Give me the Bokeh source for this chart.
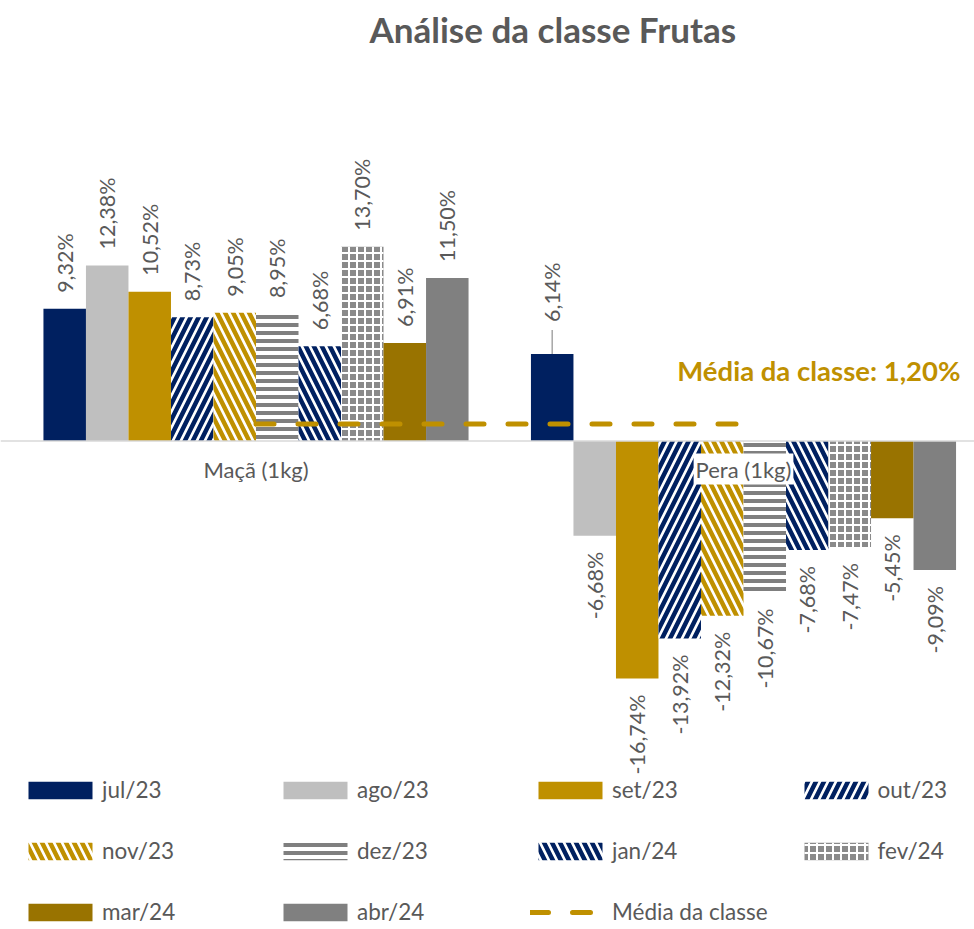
from math import pi
from bokeh.plotting import figure
from bokeh.models import Range1d, ColumnDataSource, Legend, LegendItem, Span, Label
from bokeh.core.properties import value
from bokeh.embed import file_html
from bokeh.resources import INLINE

# ---------------- data ----------------
categories = ["Maçã (1kg)", "Pera (1kg)"]
months = ["jul/23", "ago/23", "set/23", "out/23", "nov/23",
          "dez/23", "jan/24", "fev/24", "mar/24", "abr/24"]
jul23 = [9.32, 6.14]
ago23 = [12.38, -6.68]
set23 = [10.52, -16.74]
out23 = [8.73, -13.92]
nov23 = [9.05, -12.32]
dez23 = [8.95, -10.67]
jan24 = [6.68, -7.68]
fev24 = [13.70, -7.47]
mar24 = [6.91, -5.45]
abr24 = [11.50, -9.09]
media_classe = 1.20
series_values = [jul23, ago23, set23, out23, nov23, dez23, jan24, fev24, mar24, abr24]

# ---------------- styles ----------------
NAVY = "#002060"
LGRAY = "#BFBFBF"
GOLD = "#BF9000"
DGOLD = "#997300"
GRAY = "#7F7F7F"
TXT = "#595959"
FONT = "Lato"

styles = [
    dict(fill_color=NAVY),
    dict(fill_color=LGRAY),
    dict(fill_color=GOLD),
    dict(fill_color="white", hatch_pattern="right_diagonal_line", hatch_color=NAVY, hatch_scale=16, hatch_weight=4.5),
    dict(fill_color="white", hatch_pattern="left_diagonal_line", hatch_color=GOLD, hatch_scale=16, hatch_weight=4.5),
    dict(fill_color="white", hatch_pattern="horizontal_line", hatch_color=GRAY, hatch_scale=8, hatch_weight=4),
    dict(fill_color="white", hatch_pattern="left_diagonal_line", hatch_color=NAVY, hatch_scale=16, hatch_weight=4.5),
    dict(fill_color="#8A8A8A", hatch_pattern="cross", hatch_color="white", hatch_scale=8, hatch_weight=2),
    dict(fill_color=DGOLD),
    dict(fill_color="#808080"),
]

# ---------------- geometry ----------------
W, H = 974, 928
PX_PER_UNIT = 487.5          # px per category
BAR_W = 0.0872               # category units
PX_PER_PCT = 14.2
TITLE_SIZE = 35
TITLE_STANDOFF = 10
FRAME_TOP = 53               # page y of frame top (below title panel)
FRAME_BOTTOM = H
ZERO_Y = 440
CAT0_X, CAT1_X = 255.5, 743
x_start = -CAT0_X / PX_PER_UNIT
x_end = 1 + (W - CAT1_X) / PX_PER_UNIT
y_end = (ZERO_Y - FRAME_TOP) / PX_PER_PCT
y_start = -(FRAME_BOTTOM - ZERO_Y) / PX_PER_PCT

p = figure(width=W, height=H, output_backend="svg", toolbar_location=None,
           x_range=Range1d(x_start, x_end), y_range=Range1d(y_start, y_end),
           min_border_left=0, min_border_right=0, min_border_top=0, min_border_bottom=0,
           outline_line_color=None, title="Análise da classe Frutas")
p.axis.visible = False
p.grid.visible = False
p.background_fill_color = "white"
p.border_fill_color = "white"

p.title.text_font = FONT
p.title.text_font_size = f"{TITLE_SIZE}px"
p.title.text_font_style = "bold"
p.title.text_color = TXT
p.title.align = "left"
p.title.offset = 369
p.title.standoff = TITLE_STANDOFF

# zero line
p.add_layout(Span(location=0, dimension="width", line_color="#D9D9D9", line_width=1.5))

legend_items = []
xs = list(range(len(categories)))
for i, (name, vals, st) in enumerate(zip(months, series_values, styles)):
    off = (i - (len(months) - 1) / 2) * BAR_W
    bx = [x + off for x in xs]
    labels = [f"{v:.2f}%".replace(".", ",") for v in vals]
    src = ColumnDataSource(dict(x=bx, top=vals, label=labels))
    r = p.vbar(x="x", top="top", bottom=0, width=BAR_W, source=src, line_color=None, **st)
    legend_items.append(LegendItem(label=name, renderers=[r]))
    # data labels
    for xv, v, lab in zip(bx, vals, labels):
        extra = 0
        if v >= 0 and v < 6.5 and xv > 0.5:
            extra = 16
        if extra:
            p.segment(x0=[xv], y0=[v], x1=[xv], y1=[v + (extra + 8) / PX_PER_PCT],
                      line_color="#A6A6A6", line_width=1.5)
        p.text(x=[xv], y=[v], text=[lab], angle=pi / 2,
               text_align="left" if v >= 0 else "right", text_baseline="middle",
               y_offset=-(16 + extra) if v >= 0 else 16,
               text_font=value(FONT), text_font_size="21.5px", text_color=TXT)

# average line
avg_r = p.line(x=xs, y=[media_classe] * len(xs), line_color=GOLD, line_width=5,
               line_dash="18 24", line_cap="round")
legend_items.append(LegendItem(label="Média da classe", renderers=[avg_r]))

# category labels
p.text(x=xs, y=[0] * len(xs), text=categories, y_offset=28,
       text_align="center", text_baseline="middle",
       text_font=value(FONT), text_font_size="22px", text_color=TXT,
       background_fill_color="white", padding=2)

# mean annotation
p.add_layout(Label(x=(960 - CAT0_X) / PX_PER_UNIT, y=(ZERO_Y - 369) / PX_PER_PCT,
                   text=f"Média da classe: {media_classe:.2f}%".replace(".", ","),
                   text_font=FONT, text_font_size="27.5px", text_font_style="bold",
                   text_color=GOLD, text_align="right", text_baseline="middle"))

legend = Legend(items=legend_items, orientation="horizontal", ncols=4,
                location=(20, 0), glyph_width=80, glyph_height=22,
                label_standoff=2, label_width=145, label_height=33, spacing=28,
                padding=0, margin=0, border_line_color=None, background_fill_alpha=0,
                label_text_font=FONT, label_text_font_size="22.5px", label_text_color=TXT)
p.add_layout(legend, "center")

open("out.html", "w").write(file_html(p, INLINE))
